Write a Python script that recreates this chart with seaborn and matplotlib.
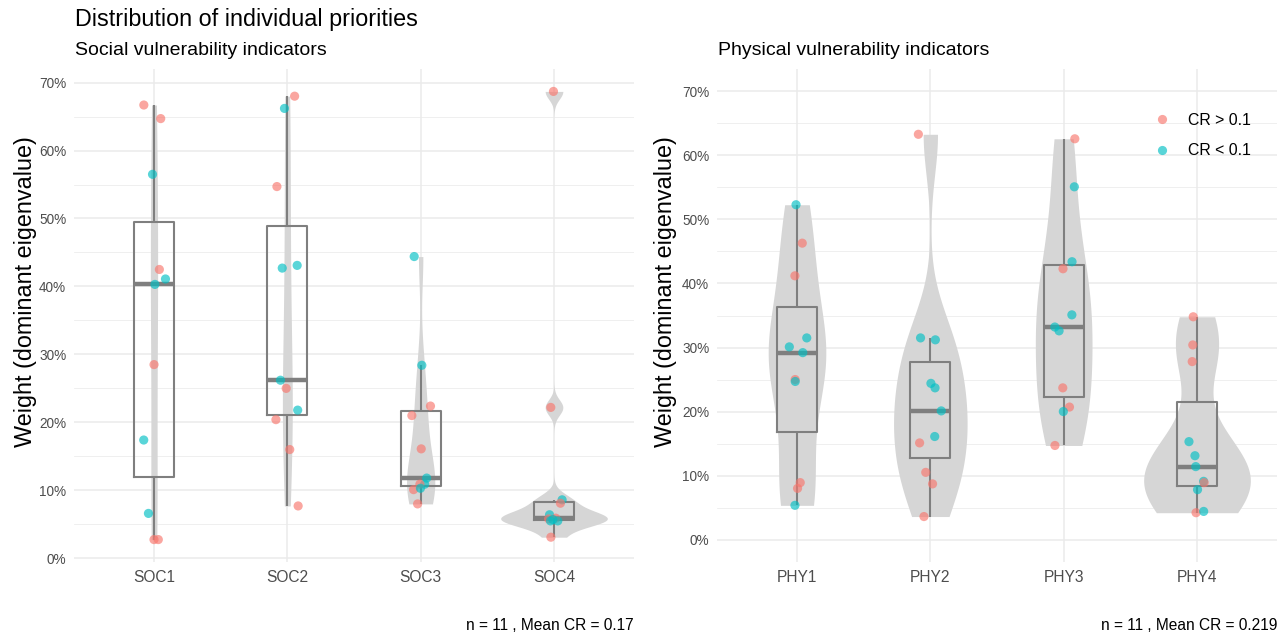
import numpy as np
import pandas as pd
import matplotlib
matplotlib.use("Agg")
import matplotlib.pyplot as plt
import seaborn as sns
from matplotlib.ticker import FuncFormatter, MultipleLocator

# ---------------- data (weights in %) ----------------
soc_cats = ["SOC1", "SOC2", "SOC3", "SOC4"]
phy_cats = ["PHY1", "PHY2", "PHY3", "PHY4"]

soc1 = [66.7, 64.7, 56.5, 42.5, 41.1, 40.3, 28.5, 17.4, 6.6, 2.75, 2.75]
soc1_cr = "HHLHLLHLLHH"
soc2 = [68.0, 66.2, 54.7, 42.7, 43.1, 26.2, 25.0, 21.8, 20.4, 16.0, 7.7]
soc2_cr = "HLHLLLHLHHH"
soc3 = [44.4, 28.4, 22.4, 21.0, 16.1, 11.8, 10.9, 10.9, 10.1, 10.3, 8.0]
soc3_cr = "LLHHHLLHHLH"
soc4 = [68.7, 22.2, 8.6, 8.1, 6.4, 5.9, 5.8, 5.7, 5.5, 5.5, 3.1]
soc4_cr = "HHLHLHHLLLH"

phy1 = [52.3, 46.3, 41.2, 31.5, 30.1, 29.2, 25.0, 24.7, 8.9, 8.0, 5.35]
phy1_cr = "LHHLLLHLHHL"
phy2 = [63.3, 31.5, 31.2, 24.4, 23.7, 20.1, 16.1, 15.1, 10.5, 8.7, 3.6]
phy2_cr = "HLLLLLLHHHH"
phy3 = [62.6, 55.1, 43.4, 42.3, 35.1, 33.2, 32.6, 23.7, 20.7, 20.0, 14.7]
phy3_cr = "HLLHLLLHHLH"
phy4 = [34.8, 30.4, 27.8, 15.3, 13.1, 11.4, 9.1, 8.9, 7.8, 4.2, 4.4]
phy4_cr = "HHHLLLLHLHL"

cr_labels = {"H": "CR > 0.1", "L": "CR < 0.1"}
hue_order = ["CR > 0.1", "CR < 0.1"]
palette = ["#F8766D", "#00BFC4"]

soc_caption = "n = 11 , Mean CR = 0.17"
phy_caption = "n = 11 , Mean CR = 0.219"


def build(cats, values, crs):
    rows = []
    for c, vals, cr in zip(cats, values, crs):
        for v, k in zip(vals, cr):
            rows.append({"cat": c, "val": v / 100.0, "cr": cr_labels[k]})
    return pd.DataFrame(rows)


soc_df = build(soc_cats, [soc1, soc2, soc3, soc4], [soc1_cr, soc2_cr, soc3_cr, soc4_cr])
phy_df = build(phy_cats, [phy1, phy2, phy3, phy4], [phy1_cr, phy2_cr, phy3_cr, phy4_cr])


def nrd0(v):
    v = np.asarray(v, float)
    sd = v.std(ddof=1)
    q75, q25 = np.percentile(v, [75, 25])
    lo = min(sd, (q75 - q25) / 1.34)
    return 0.9 * lo * len(v) ** -0.2, sd


def peak_density(v, bw):
    v = np.asarray(v, float)
    grid = np.linspace(v.min(), v.max(), 512)
    d = np.exp(-0.5 * ((grid[:, None] - v[None, :]) / bw) ** 2).sum(1)
    return (d / (len(v) * bw * np.sqrt(2 * np.pi))).max()


# ---------------- figure ----------------
plt.rcParams["font.family"] = ["Liberation Sans", "DejaVu Sans"]
fig = plt.figure(figsize=(12.88, 6.39), dpi=100)
W, H = 1288, 639

ax_l = fig.add_axes([74 / W, 1 - 562 / H, 560 / W, 493 / H])
ax_r = fig.add_axes([717 / W, 1 - 562 / H, 560 / W, 493 / H])

np.random.seed(7)


def draw(ax, df, cats, ylim, legend):
    ax.set_facecolor("white")
    # violins (ggplot-like nrd0 bandwidth, area scaling)
    info = {}
    for c in cats:
        v = df.loc[df.cat == c, "val"].values
        bw, sd = nrd0(v)
        info[c] = (bw, sd, peak_density(v, bw))
    pmax = max(p for _, _, p in info.values())
    for c in cats:
        bw, sd, p = info[c]
        sns.violinplot(data=df[df.cat == c], x="cat", y="val", order=cats,
                       bw_method=bw / sd, cut=0, width=0.8 * p / pmax, gridsize=512,
                       density_norm="width", inner=None, linewidth=0,
                       color="#d6d6d6", saturation=1, ax=ax)
    sns.boxplot(data=df, x="cat", y="val", order=cats, width=0.3, fill=False,
                color="#7f7f7f", linewidth=1.5, showfliers=False, showcaps=False,
                saturation=1, medianprops=dict(linewidth=3.2, color="#7f7f7f"),
                whiskerprops=dict(color="#7f7f7f"), boxprops=dict(color="#7f7f7f"),
                ax=ax)
    sns.stripplot(data=df, x="cat", y="val", order=cats, hue="cr",
                  hue_order=hue_order, palette=palette, jitter=0.09, size=6.6,
                  alpha=0.65, linewidth=0, ax=ax, legend=legend, zorder=5)
    ax.set_xlim(-0.6, 3.6)
    ax.set_ylim(*ylim)
    ax.yaxis.set_major_locator(MultipleLocator(0.1))
    ax.yaxis.set_minor_locator(MultipleLocator(0.05))
    ax.yaxis.set_major_formatter(FuncFormatter(lambda x, p: f"{x*100:.0f}%"))
    ax.grid(True, which="major", axis="both", color="#ebebeb", linewidth=1.1)
    ax.grid(True, which="minor", axis="y", color="#ebebeb", linewidth=0.55)
    ax.set_axisbelow(True)
    for s in ax.spines.values():
        s.set_visible(False)
    ax.tick_params(which="both", length=0, colors="#4d4d4d")
    ax.tick_params(axis="y", pad=5.5, labelsize=9.8)
    ax.tick_params(axis="x", pad=6, labelsize=11.2)
    ax.set_xlabel("")
    ax.set_ylabel("")


draw(ax_l, soc_df, soc_cats, (-0.0055, 0.720), False)
draw(ax_r, phy_df, phy_cats, (-0.035, 0.735), True)

leg = ax_r.legend(title=None, frameon=False, loc="upper left",
                  bbox_to_anchor=((1154 - 717) / 560, 1 - (113 - 69) / 493),
                  borderaxespad=0, borderpad=0, fontsize=11.4, labelspacing=0.97,
                  handlelength=1.0, handletextpad=1.15, markerscale=1.0)
for h in leg.legend_handles:
    h.set_alpha(0.65)

# texts
fig.text(75 / W, 1 - 26 / H, "Distribution of individual priorities", fontsize=16.8,
         color="black", va="baseline", ha="left")
fig.text(75 / W, 1 - 55 / H, "Social vulnerability indicators", fontsize=14,
         color="black", va="baseline", ha="left")
fig.text(718 / W, 1 - 55 / H, "Physical vulnerability indicators", fontsize=14,
         color="black", va="baseline", ha="left")
fig.text(26 / W, 1 - 292 / H, "Weight (dominant eigenvalue)", rotation=90,
         fontsize=16.8, ha="center", va="center")
fig.text(666 / W, 1 - 292 / H, "Weight (dominant eigenvalue)", rotation=90,
         fontsize=16.8, ha="center", va="center")
fig.text(634 / W, 1 - 630 / H, soc_caption, fontsize=11.2, ha="right", va="baseline")
fig.text(1277 / W, 1 - 630 / H, phy_caption, fontsize=11.2, ha="right", va="baseline")

fig.savefig("out.png", dpi=100, facecolor="white")
